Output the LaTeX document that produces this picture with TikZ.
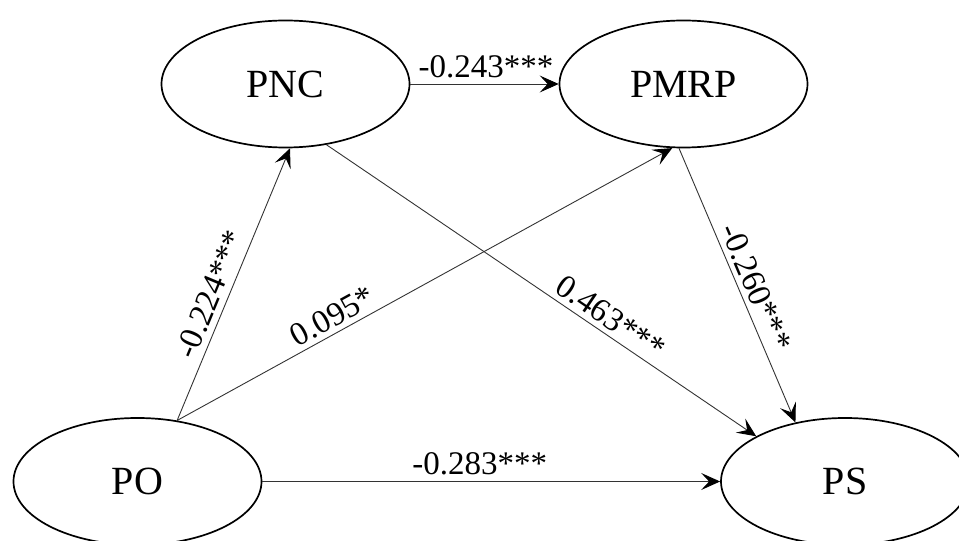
\documentclass[tikz,border=0pt]{standalone}
\usepackage{fontspec}
\setmainfont{Liberation Serif}
\newfontfamily\pathfont{Liberation Serif}
\usetikzlibrary{arrows.meta,shapes.geometric}

\begin{document}
\begin{tikzpicture}[x=1pt,y=1pt,font=\pathfont,>={Stealth[length=19pt,width=17pt,inset=8pt,color=black]}]
\tikzset{
  construct/.style={ellipse,draw=black,line width=1.7pt,inner sep=0pt,minimum width=248pt,minimum height=127pt,font=\pathfont\fontsize{40}{44}\selectfont},
  path/.style={->,draw=black!80,line width=0.9pt},
  coef/.style={font=\pathfont\fontsize{33}{36}\selectfont,inner sep=2pt,text=black}
}
\clip (0,0) rectangle (959,541);
\node[construct] (PNC) at (285.5,457) {PNC};
\node[construct] (PMRP) at (683.5,457) {PMRP};
\node[construct] (PO) at (137.5,59.5) {PO};
\node[construct] (PS) at (845,59.5) {PS};

\draw[path] (PNC.east) -- node[coef,above=4pt,pos=0.51] {-0.243***} (PMRP.west);
\draw[path] (PO.57) -- node[coef,sloped,above=4pt,pos=0.44] {-0.224***} (PNC.-86);
\draw[path] (PO.57) -- node[coef,sloped,above=3pt,pos=0.33] {0.095*} (PMRP.260);
\draw[path] (PNC.-56) -- node[coef,sloped,above=3pt,pos=0.64] {0.463***} (PS.153);
\draw[path] (PMRP.266) -- node[coef,sloped,above=3pt,pos=0.53] {-0.260***} (PS.130);
\draw[path] (PO.east) -- node[coef,above=4pt,pos=0.475] {-0.283***} (PS.west);
\end{tikzpicture}
\end{document}
